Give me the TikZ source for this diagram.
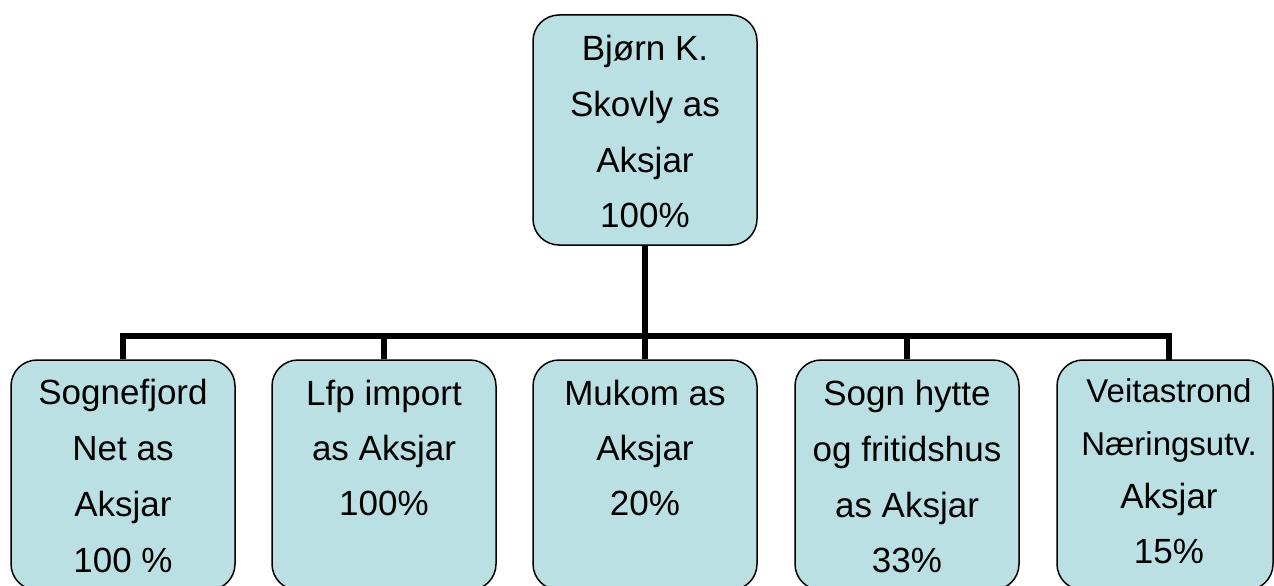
\documentclass[tikz,border=0pt]{standalone}
\usepackage{fontspec}
\setmainfont{Liberation Sans}
\definecolor{boxfill}{RGB}{186,224,227}
\tikzset{
  orgbox/.style={draw=black, line width=1.5pt, fill=boxfill, rounded corners=26pt, minimum width=#1, minimum height=230pt, inner sep=0pt},
  orgbox/.default=224pt,
  ln/.style={anchor=base, inner sep=0pt, font=\fontsize{35}{40}\selectfont},
  lnsmall/.style={anchor=base, inner sep=0pt, font=\fontsize{33}{38}\selectfont},
  conn/.style={line width=6pt}
}
\begin{document}
\begin{tikzpicture}[x=1pt, y=-1pt]
\useasboundingbox (0,0) rectangle (1274,586);
% boxes
\node[orgbox] (top) at (645,130) {};
\node[orgbox] (b1) at (123,475) {};
\node[orgbox] (b2) at (384,475) {};
\node[orgbox] (b3) at (645,475) {};
\node[orgbox] (b4) at (907,475) {};
\node[orgbox=216pt] (b5) at (1165,475) {};
% connectors
\coordinate (bus) at (645,336);
\coordinate (s5) at (1169,360);
\draw[conn] (top.south) -- (bus);
\draw[conn] (b1.north) -- (b1.north |- bus) -- (s5 |- bus) -- (s5);
\draw[conn] (b2.north) -- (b2.north |- bus);
\draw[conn] (b3.north) -- (bus);
\draw[conn] (b4.north) -- (b4.north |- bus);
% top text
\node[ln] (t0a) at (645,61) {Bjørn K.};
\node[ln] (t0b) at (645,116) {Skovly as};
\node[ln] (t0c) at (645,172) {Aksjar};
\node[ln] (t0d) at (645,227) {100\%};
% box 1
\node[ln] (t1a) at (123,404) {Sognefjord};
\node[ln] (t1b) at (123,460) {Net as};
\node[ln] (t1c) at (123,516) {Aksjar};
\node[ln] (t1d) at (123,572) {100 \%};
% box 2
\node[ln] (t2a) at (384,405) {Lfp import};
\node[ln] (t2b) at (384,460) {as Aksjar};
\node[ln] (t2c) at (384,515) {100\%};
% box 3
\node[ln] (t3a) at (645,405) {Mukom as};
\node[ln] (t3b) at (645,460) {Aksjar};
\node[ln] (t3c) at (645,515) {20\%};
% box 4
\node[ln] (t4a) at (907,405) {Sogn hytte};
\node[ln] (t4b) at (907,461) {og fritidshus};
\node[ln] (t4c) at (907,517) {as Aksjar};
\node[ln] (t4d) at (907,572) {33\%};
% box 5
\node[lnsmall] (t5a) at (1169,402) {Veitastrond};
\node[lnsmall] (t5b) at (1169,455) {Næringsutv.};
\node[ln] (t5c) at (1169,508) {Aksjar};
\node[ln] (t5d) at (1169,563) {15\%};
\end{tikzpicture}
\end{document}
